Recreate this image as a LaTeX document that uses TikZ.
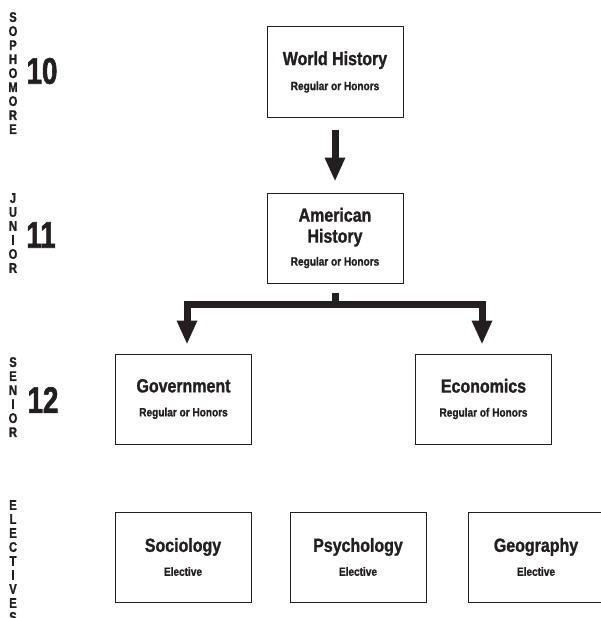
\documentclass[tikz,border=0pt]{standalone}
\usepackage{fontspec}
\usetikzlibrary{arrows.meta}
\newfontfamily\cbold{Liberation Sans Bold}[FakeStretch=0.84,FakeBold=1.2]
\newfontfamily\cnum{Liberation Sans Bold}[FakeStretch=0.75,FakeBold=1.5]
\newfontfamily\cside{Liberation Sans Bold}[FakeStretch=0.8,FakeBold=1.2]
\definecolor{ink}{RGB}{35,31,32}
\newcommand{\subf}{\fontsize{12}{14}\selectfont}
\tikzset{
  course/.style={draw=ink, line width=1pt, rectangle, minimum width=136pt, minimum height=90pt,
    inner sep=0pt, align=center, text=ink, font=\cbold\fontsize{19}{21}\selectfont},
  conn/.style={draw=ink, line width=7pt, line join=miter},
  tip/.style={-{Triangle[width=19pt,length=24pt]}},
  yearnum/.style={text=ink, inner sep=0pt, font=\cnum\fontsize{37}{37}\selectfont},
  sidelbl/.style={text=ink, inner sep=0pt, align=center, anchor=north, font=\cside\fontsize{14}{14}\selectfont}
}
\begin{document}
\begin{tikzpicture}[x=1pt,y=-1pt]
\useasboundingbox[fill=white] (0,0) rectangle (601,618);

% side labels
\node[sidelbl] (soph) at (13,12) {S\\O\\P\\H\\O\\M\\O\\R\\E};
\node[yearnum] (n10) at (42,71) {10};
\node[sidelbl] (jun) at (13,193) {J\\U\\N\\I\\O\\R};
\node[yearnum] (n11) at (41,235) {11};
\node[sidelbl] (sen) at (13,357) {S\\E\\N\\I\\O\\R};
\node[yearnum] (n12) at (43,400) {12};
\node[sidelbl] (elec) at (13,500) {E\\L\\E\\C\\T\\I\\V\\E\\S};

% course boxes
\node[course] (wh) at (335,72) {World History\\[4pt]{\subf Regular or Honors}};
\node[course] (ah) at (335,238) {American\\History\\[2pt]{\subf Regular or Honors}};
\node[course] (gov) at (183.5,399) {Government\\[3pt]{\subf Regular or Honors}};
\node[course] (eco) at (483.5,399) {Economics\\[3pt]{\subf Regular of Honors}};
\node[course] (soc) at (183,557) {Sociology\\[3pt]{\subf Elective}};
\node[course] (psy) at (358,557) {Psychology\\[3pt]{\subf Elective}};
\node[course] (geo) at (536,557) {Geography\\[3pt]{\subf Elective}};

% connectors
\draw[conn, tip] ([yshift=-12pt]wh.south) -- ([yshift=11pt]ah.north);
\coordinate (bar) at ([yshift=-21pt]ah.south);
\draw[conn] ([yshift=-9pt]ah.south) -- ([yshift=3.5pt]bar);
\draw[conn, tip] (bar) -| ([xshift=3.5pt,yshift=9pt]gov.north);
\draw[conn, tip] (bar) -| ([xshift=-1.5pt,yshift=9pt]eco.north);
\end{tikzpicture}
\end{document}
